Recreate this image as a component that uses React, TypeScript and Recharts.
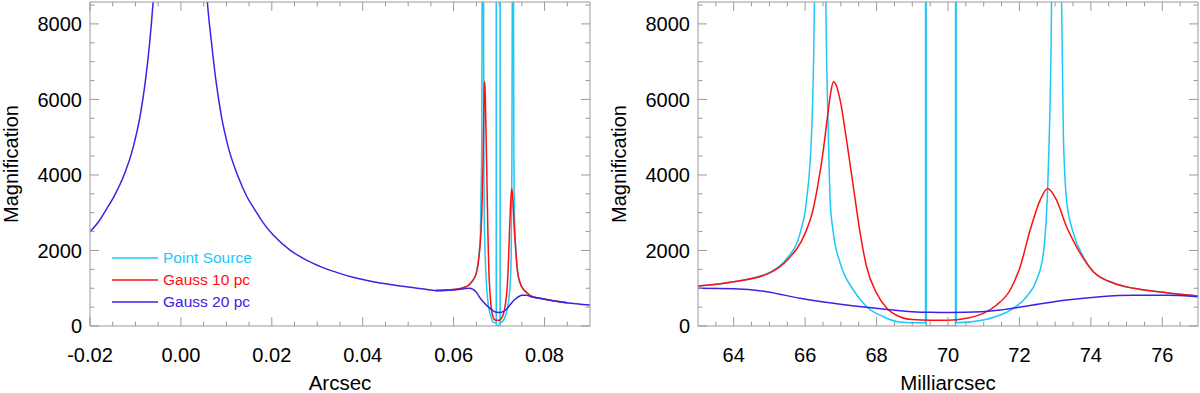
import React from 'react';
import { LineChart, Line, XAxis, YAxis, Label } from 'recharts';

const FONT = '"Liberation Sans", Arial, Helvetica, sans-serif';
const CYAN = '#1ec8f5';
const RED = '#ff1010';
const BLUE = '#4020e6';
const FRAME = '#9a9a9a';
const THIN = 0.001; // axes need a non-zero box to render

// shared magnification axis
const magTicks = [0, 2000, 4000, 6000, 8000];
const magMinor = [500, 1000, 1500, 2500, 3000, 3500, 4500, 5000, 5500, 6500, 7000, 7500, 8500];
const magDomain = [0, 8580];

// left panel: arcsec
const arcsecTicks = [-0.02, 0, 0.02, 0.04, 0.06, 0.08];
const arcsecMinor = [-0.015, -0.01, -0.005, 0.005, 0.01, 0.015, 0.025, 0.03, 0.035, 0.045, 0.05, 0.055, 0.065, 0.07, 0.075, 0.085];

const arcsecPoint: [number, number][] = [
  [0.056, 950], [0.06, 965], [0.063, 1058], [0.064, 1172], [0.065, 1420], [0.0655, 1800],
  [0.0659, 2460], [0.066, 3334], [0.0662, 5100], [0.06626, 8600], [0.0664, 40000], [0.06658, 8600],
  [0.06665, 5100], [0.0667, 3334], [0.0668, 2460], [0.067, 1667], [0.0673, 953], [0.0677, 511],
  [0.0682, 246], [0.0686, 114], [0.069, 88], [0.06937, 88], [0.06938, 40000], [0.06939, 0],
  [0.07021, 0], [0.07022, 40000], [0.07023, 88], [0.071, 159], [0.07146, 291], [0.07183, 468],
  [0.0722, 775], [0.07248, 1217], [0.07267, 1923], [0.07281, 4215], [0.0729, 8600], [0.07305, 40000],
  [0.07318, 8600], [0.07323, 5100], [0.07332, 3334], [0.07351, 2460], [0.07379, 1834], [0.07407, 1437],
  [0.07463, 1138], [0.0752, 997], [0.07612, 881], [0.077, 794], [0.079, 733], [0.085, 617],
];

const arcsecGauss10: [number, number][] = [
  [0.056, 940], [0.06, 968], [0.063, 1058], [0.064, 1172], [0.065, 1400], [0.0655, 1746],
  [0.066, 2460], [0.0662, 3000], [0.06635, 3700], [0.0665, 4600], [0.06662, 5500], [0.06672, 6200],
  [0.06679, 6465], [0.06688, 6350], [0.06698, 5980], [0.06716, 4921], [0.06735, 3686], [0.06754, 2460],
  [0.06772, 1570], [0.068, 870], [0.06828, 476], [0.0686, 265], [0.069, 170], [0.0695, 150], [0.07, 150],
  [0.07052, 203], [0.07099, 336], [0.07136, 556], [0.07174, 953], [0.07202, 1570], [0.0723, 2540],
  [0.07258, 3334], [0.07279, 3643], [0.07304, 3334], [0.07332, 2627], [0.0736, 2098], [0.07407, 1437],
  [0.07463, 1138], [0.0752, 997], [0.07612, 881], [0.077, 794], [0.079, 733], [0.085, 617],
];

const arcsecGauss20: [number, number][] = [
  [-0.02, 2495], [-0.018, 2780], [-0.01634, 3100], [-0.0145, 3480], [-0.01267, 3950],
  [-0.01048, 4745], [-0.00901, 5538], [-0.00791, 6400], [-0.00696, 7400], [-0.00608, 8626],
  [-0.004, 13000], [0, 30000], [0.004, 13000], [0.00579, 8626], [0.00674, 7500], [0.00769, 6509],
  [0.00894, 5538], [0.0104, 4745], [0.0126, 3950], [0.0145, 3430], [0.01626, 3080], [0.018, 2750],
  [0.0203, 2408], [0.024, 2011], [0.0276, 1746], [0.031, 1560], [0.0349, 1394], [0.0385, 1270],
  [0.0423, 1172], [0.046, 1100], [0.0496, 1040], [0.053, 985], [0.0569, 934], [0.06, 955],
  [0.0635, 1000], [0.0649, 908], [0.06586, 733], [0.06679, 600], [0.06772, 494], [0.06866, 405],
  [0.0695, 362], [0.07, 360], [0.0705, 362], [0.07146, 423], [0.07239, 556], [0.07332, 688],
  [0.07426, 775], [0.07519, 811], [0.07612, 811], [0.077, 775], [0.0789, 733], [0.0848, 617],
  [0.09, 556],
];

// right panel: milliarcsec
const masTicks = [64, 66, 68, 70, 72, 74, 76];
const masMinor = [63.5, 64.5, 65, 65.5, 66.5, 67, 67.5, 68.5, 69, 69.5, 70.5, 71, 71.5, 72.5, 73, 73.5, 74.5, 75, 75.5, 76.5];

const masPoint: [number, number][] = [
  [63, 1058], [64, 1172], [65, 1420], [65.5, 1800], [65.86, 2460], [66.04, 3334], [66.18, 5100],
  [66.26, 8600], [66.42, 40000], [66.58, 8600], [66.65, 5100], [66.7, 3334], [66.79, 2460],
  [66.98, 1667], [67.35, 953], [67.72, 511], [68.19, 246], [68.6, 114], [69.0, 88], [69.37, 88],
  [69.38, 40000], [69.39, 0], [70.21, 0], [70.22, 40000], [70.23, 88], [70.99, 159], [71.46, 291],
  [71.83, 468], [72.2, 775], [72.48, 1217], [72.67, 1923], [72.81, 4215], [72.9, 8600], [73.05, 40000],
  [73.18, 8600], [73.23, 5100], [73.32, 3334], [73.51, 2460], [73.79, 1834], [74.07, 1437],
  [74.63, 1138], [75.2, 997], [76.12, 881], [77, 794],
];

const masGauss10: [number, number][] = [
  [63, 1058], [64, 1172], [65, 1400], [65.5, 1746], [66, 2460], [66.2, 3000], [66.35, 3700],
  [66.5, 4600], [66.62, 5500], [66.72, 6200], [66.79, 6465], [66.88, 6350], [66.98, 5980],
  [67.16, 4921], [67.35, 3686], [67.54, 2460], [67.72, 1570], [68.0, 870], [68.28, 476], [68.6, 265],
  [69.0, 170], [69.5, 150], [70.0, 150], [70.52, 203], [70.99, 336], [71.36, 556], [71.74, 953],
  [72.02, 1570], [72.3, 2540], [72.58, 3334], [72.79, 3643], [73.04, 3334], [73.32, 2627],
  [73.6, 2098], [74.07, 1437], [74.63, 1138], [75.2, 997], [76.12, 881], [77, 794],
];

const masGauss20: [number, number][] = [
  [63, 997], [64, 985], [64.92, 908], [65.86, 733], [66.79, 600], [67.72, 494], [68.66, 405],
  [69.0, 379], [69.5, 362], [70.0, 360], [70.5, 362], [71.46, 423], [72.39, 556], [73.32, 688],
  [74.26, 775], [75.19, 811], [76.12, 811], [77, 775],
];

const seriesNames = ['Point Source', 'Gauss 10 pc', 'Gauss 20 pc'];
const seriesColors = [CYAN, RED, BLUE];

const toRows = (pts: [number, number][]) => pts.map(([x, y]) => ({ x, y }));

const tickStyle = { fill: '#000', fontSize: 20, fontFamily: FONT };
// tick={false} drops the tick lines too, so the tick-only axes draw an empty label
const noLabel = () => <g />;

const bottomTitle = (text: string) => (props: any) => {
  const vb = props.viewBox;
  return (
    <text x={vb.x + vb.width / 2} y={vb.y + 64} textAnchor="middle" fontSize={20.5} fontFamily={FONT} fill="#000">
      {text}
    </text>
  );
};

const leftTitle = (text: string) => (props: any) => {
  const vb = props.viewBox;
  const cx = vb.x - 79;
  const cy = vb.y + vb.height / 2;
  return (
    <text x={cx} y={cy} dy="0.36em" transform={`rotate(-90 ${cx} ${cy})`} textAnchor="middle" fontSize={20} fontFamily={FONT} fill="#000">
      {text}
    </text>
  );
};

type PanelProps = {
  domain: number[];
  ticks: number[];
  minor: number[];
  format: (v: number) => string;
  title: string;
  series: [number, number][][];
  left: number;
  right: number;
};

// tick-only axes are mirrored so their marks point into the plot
const Panel = ({ domain, ticks, minor, format, title, series, left, right }: PanelProps) => (
  <LineChart width={600} height={393} margin={{ top: 2, right, bottom: 67, left }}>
    <XAxis type="number" dataKey="x" domain={domain} allowDataOverflow ticks={ticks} interval={0}
      tickFormatter={format} height={THIN} tickLine={false} tickSize={0} tickMargin={22} stroke={FRAME} tick={tickStyle}>
      <Label content={bottomTitle(title)} />
    </XAxis>
    <XAxis xAxisId="b" mirror type="number" dataKey="x" domain={domain} allowDataOverflow ticks={ticks} interval={0}
      height={THIN} tickSize={9} tick={noLabel} axisLine={false} stroke={FRAME} />
    <XAxis xAxisId="bm" mirror type="number" dataKey="x" domain={domain} allowDataOverflow ticks={minor} interval={0}
      height={THIN} tickSize={4.5} tick={noLabel} axisLine={false} stroke={FRAME} />
    <XAxis xAxisId="t" mirror orientation="top" type="number" dataKey="x" domain={domain} allowDataOverflow ticks={ticks} interval={0}
      height={THIN} tickSize={9} tick={noLabel} stroke={FRAME} />
    <XAxis xAxisId="tm" mirror orientation="top" type="number" dataKey="x" domain={domain} allowDataOverflow ticks={minor} interval={0}
      height={THIN} tickSize={4.5} tick={noLabel} axisLine={false} stroke={FRAME} />
    <YAxis type="number" domain={magDomain} allowDataOverflow ticks={magTicks} interval={0}
      width={THIN} tickLine={false} tickSize={0} tickMargin={8} stroke={FRAME} tick={tickStyle}>
      <Label content={leftTitle('Magnification')} />
    </YAxis>
    <YAxis yAxisId="l" mirror type="number" domain={magDomain} allowDataOverflow ticks={magTicks} interval={0}
      width={THIN} tickSize={9} tick={noLabel} axisLine={false} stroke={FRAME} />
    <YAxis yAxisId="lm" mirror type="number" domain={magDomain} allowDataOverflow ticks={magMinor} interval={0}
      width={THIN} tickSize={4.5} tick={noLabel} axisLine={false} stroke={FRAME} />
    <YAxis yAxisId="r" mirror orientation="right" type="number" domain={magDomain} allowDataOverflow ticks={magTicks} interval={0}
      width={THIN} tickSize={9} tick={noLabel} stroke={FRAME} />
    <YAxis yAxisId="rm" mirror orientation="right" type="number" domain={magDomain} allowDataOverflow ticks={magMinor} interval={0}
      width={THIN} tickSize={4.5} tick={noLabel} axisLine={false} stroke={FRAME} />
    {series.map((pts, i) => (
      <Line key={seriesNames[i]} name={seriesNames[i]} data={toRows(pts)} dataKey="y" type="monotone"
        stroke={seriesColors[i]} strokeWidth={1.5} dot={false} activeDot={false} isAnimationActive={false} />
    ))}
  </LineChart>
);

const LegendBox = () => (
  <div style={{ position: 'absolute', left: 112, top: 247, fontFamily: FONT, fontSize: 15.5 }}>
    {seriesNames.map((name, i) => (
      <div key={name} style={{ display: 'flex', alignItems: 'center', height: 22 }}>
        <svg width={46} height={4} style={{ display: 'block' }}>
          <line x1={0} x2={46} y1={2} y2={2} stroke={seriesColors[i]} strokeWidth={1.5} />
        </svg>
        <span style={{ marginLeft: 5, color: seriesColors[i], whiteSpace: 'nowrap' }}>{name}</span>
      </div>
    ))}
  </div>
);

export default function App() {
  return (
    <div style={{ position: 'absolute', left: 0, top: 0, width: 1200, height: 393, background: '#fff', overflow: 'hidden' }}>
      <div style={{ position: 'absolute', left: 0, top: 0 }}>
        <Panel domain={[-0.02, 0.09]} ticks={arcsecTicks} minor={arcsecMinor} format={(v) => v.toFixed(2)}
          title="Arcsec" series={[arcsecPoint, arcsecGauss10, arcsecGauss20]} left={90} right={10} />
      </div>
      <div style={{ position: 'absolute', left: 600, top: 0 }}>
        <Panel domain={[63, 77]} ticks={masTicks} minor={masMinor} format={(v) => String(v)}
          title="Milliarcsec" series={[masPoint, masGauss10, masGauss20]} left={98} right={2} />
      </div>
      <LegendBox />
    </div>
  );
}
